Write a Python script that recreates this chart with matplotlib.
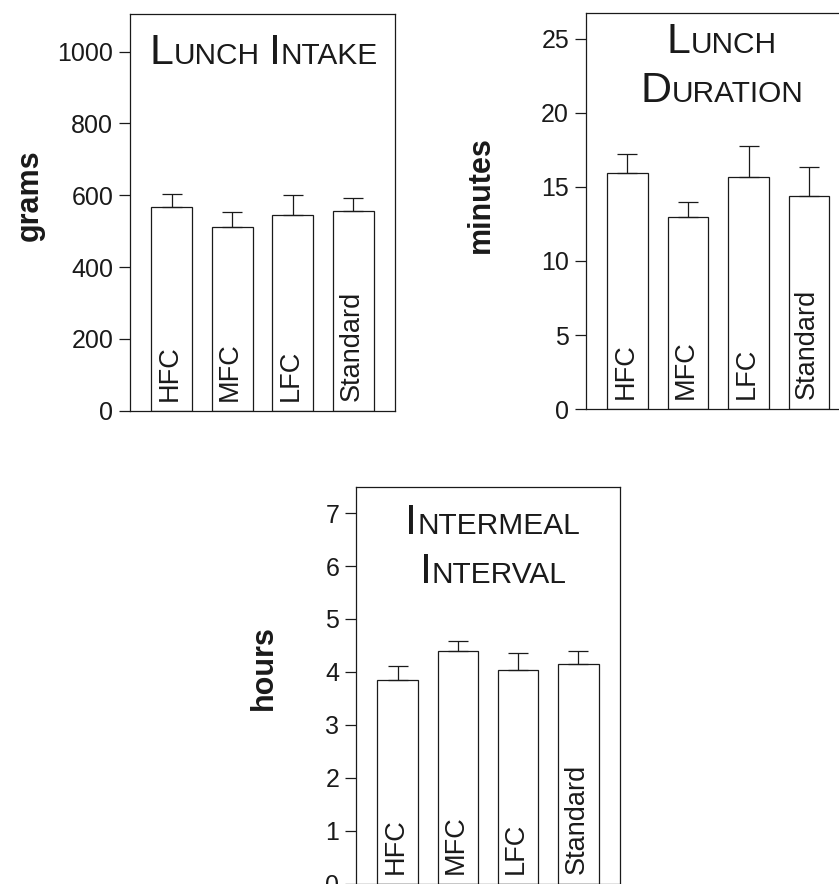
import matplotlib
matplotlib.use("Agg")
import matplotlib.pyplot as plt

plt.rcParams['font.family'] = ['Liberation Sans', 'DejaVu Sans']

W, H = 839, 884
DPI = 100

categories = ["HFC", "MFC", "LFC", "Standard"]

intake_mean = [567, 512, 545, 556]
intake_sem = [37, 42, 57, 37]
intake_ticks = [0, 200, 400, 600, 800, 1000]

duration_mean = [15.92, 12.96, 15.68, 14.39]
duration_sem = [1.30, 1.03, 2.06, 1.98]
duration_ticks = [0, 5, 10, 15, 20, 25]

interval_mean = [3.85, 4.40, 4.04, 4.15]
interval_sem = [0.26, 0.19, 0.31, 0.25]
interval_ticks = [0, 1, 2, 3, 4, 5, 6, 7]

INK = "#1a1a1a"
LW = 0.9

fig = plt.figure(figsize=(W / DPI, H / DPI), dpi=DPI)
fig.patch.set_facecolor("white")


def add_axes_px(left, top, right, bottom):
    return fig.add_axes([left / W, 1 - bottom / H, (right - left) / W, (bottom - top) / H])


def panel(ax, means, sems, ticks, ymax):
    x = list(range(len(categories)))
    ax.bar(x, means, width=0.67, color="white", edgecolor=INK, linewidth=LW, zorder=2)
    ax.errorbar(x, means, yerr=[[0] * len(sems), sems], fmt="none", ecolor=INK,
                elinewidth=LW, capsize=7.5, capthick=LW, zorder=3)
    ax.set_xlim(-0.69, 3.69)
    ax.set_ylim(0, ymax)
    ax.set_yticks(ticks)
    ax.set_yticklabels([str(t) for t in ticks])
    ax.set_xticks([])
    for s in ax.spines.values():
        s.set_linewidth(LW)
        s.set_color(INK)
    ax.tick_params(axis="y", direction="out", length=8, width=LW, color=INK,
                   labelsize=18, labelcolor=INK, pad=4)
    for i, c in enumerate(categories):
        ax.annotate(c, xy=(i, 0), xytext=(-2, 10), textcoords="offset pixels",
                    rotation=90, ha="center", va="bottom", fontsize=19.5, color=INK)


ax1 = add_axes_px(130, 14, 395, 410.7)
panel(ax1, intake_mean, intake_sem, intake_ticks, 1105)

ax2 = add_axes_px(585.7, 13.3, 851, 409.3)
panel(ax2, duration_mean, duration_sem, duration_ticks, 26.7)

ax3 = add_axes_px(356, 486.7, 620, 883.6)
panel(ax3, interval_mean, interval_sem, interval_ticks, 7.5)

# y labels
fig.text(30 / W, 1 - 195 / H, "grams", rotation=90, ha="center", va="center",
         fontsize=22, fontweight="bold", color=INK)
fig.text(481 / W, 1 - 195 / H, "minutes", rotation=90, ha="center", va="center",
         fontsize=22, fontweight="bold", color=INK)
fig.text(264 / W, 1 - 668 / H, "hours", rotation=90, ha="center", va="center",
         fontsize=22, fontweight="bold", color=INK)

# small-caps titles
renderer = fig.canvas.get_renderer()
BIG, SMALL = 31, 21.5


def smallcaps(text, cx, baseline):
    segs = []
    for word_i, word in enumerate(text.split(" ")):
        if word_i > 0:
            segs.append((" ", SMALL, True))
        segs.append((word[0], BIG, False))
        segs.append((word[1:], SMALL, False))
    objs = []
    widths = []
    for s, size, is_space in segs:
        if is_space:
            objs.append(None)
            widths.append(size * 0.3 * DPI / 72)
            continue
        t = fig.text(0, 1 - baseline / H, s, fontsize=size, va="baseline", ha="left", color=INK)
        widths.append(t.get_window_extent(renderer).width)
        objs.append(t)
    total = sum(widths)
    x = cx - total / 2
    for t, w in zip(objs, widths):
        if t is not None:
            t.set_x(x / W)
        x += w


smallcaps("LUNCH INTAKE", 264, 64)
smallcaps("LUNCH", 722, 53.3)
smallcaps("DURATION", 722, 101.7)
smallcaps("INTERMEAL", 492.5, 534)
smallcaps("INTERVAL", 493, 583.3)

fig.savefig("out.png", dpi=DPI)
